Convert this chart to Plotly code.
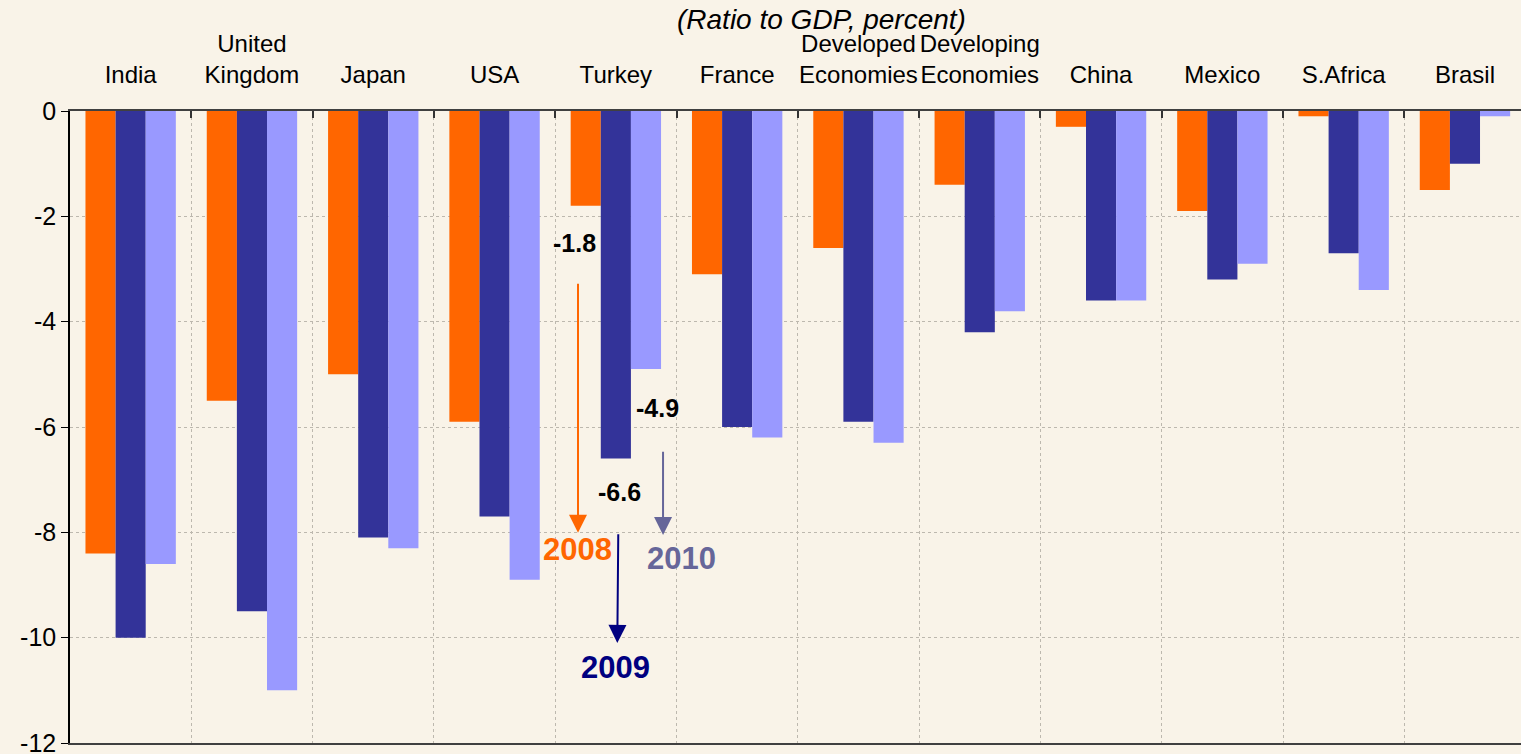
import plotly.graph_objects as go

categories = ["India", "United<br>Kingdom", "Japan", "USA", "Turkey", "France",
              "Developed<br>Economies", "Developing<br>Economies", "China", "Mexico",
              "S.Africa", "Brasil"]
years = ["2008", "2009", "2010"]
v2008 = [-8.4, -5.5, -5.0, -5.9, -1.8, -3.1, -2.6, -1.4, -0.3, -1.9, -0.1, -1.5]
v2009 = [-10.0, -9.5, -8.1, -7.7, -6.6, -6.0, -5.9, -4.2, -3.6, -3.2, -2.7, -1.0]
v2010 = [-8.6, -11.0, -8.3, -8.9, -4.9, -6.2, -6.3, -3.8, -3.6, -2.9, -3.4, -0.1]
colors = ["#FF6600", "#333399", "#9999FF"]
y_ticks = [0, -2, -4, -6, -8, -10, -12]
y_tick_text = ["0", "-2", "-4", "-6", "-8", "-10", "-12"]

BG = "#F9F3E8"
FONT = "Liberation Sans, Arial, sans-serif"

xpos = list(range(len(categories)))
fig = go.Figure()
for name, vals, col in zip(years, [v2008, v2009, v2010], colors):
    fig.add_trace(go.Bar(x=xpos, y=vals, name=name, marker=dict(color=col, line=dict(width=0))))

fig.update_layout(
    width=1521, height=754, autosize=False,
    barmode="group", bargap=0.255, bargroupgap=0,
    paper_bgcolor=BG, plot_bgcolor=BG,
    showlegend=False,
    margin=dict(l=70, r=0, t=111, b=11, autoexpand=False),
    font=dict(family=FONT, color="black"),
)
fig.update_xaxes(
    side="top", range=[-0.5, 11.462], automargin=False, tickangle=0,
    tickmode="array", tickvals=xpos, ticktext=categories,
    tickfont=dict(size=24, family=FONT, color="black"),
    ticks="", ticklabelstandoff=16,
    showgrid=False, zeroline=False,
    showline=True, linecolor="#404040", linewidth=2, mirror=True,
    minor=dict(tickmode="array", tickvals=[i + 0.5 for i in range(11)],
               showgrid=True, gridcolor="#BDB8AE", griddash="dot", gridwidth=1,
               ticks="inside", ticklen=7, tickcolor="#333333", tickwidth=2),
)
fig.update_yaxes(
    range=[-12, 0], tickmode="array", tickvals=y_ticks, ticktext=y_tick_text, automargin=False,
    tickfont=dict(size=25, family=FONT, color="black"), ticklabeloverflow="allow",
    ticks="outside", ticklen=7, tickcolor="black", tickwidth=1,
    showline=True, linecolor="black", linewidth=1.5,
    showgrid=True, gridcolor="#BDB8AE", griddash="dot", gridwidth=1,
    zeroline=False,
)

annotations = [
    dict(x=0.518, y=1.145, xref="paper", yref="paper", xanchor="center", yanchor="middle",
         text="<i>(Ratio to GDP, percent)</i>",
         showarrow=False, font=dict(size=28, family=FONT, color="black")),
    dict(x=3.663, y=-2.51, text="<b>-1.8</b>", showarrow=False, font=dict(size=25, color="black")),
    dict(x=4.347, y=-5.64, text="<b>-4.9</b>", showarrow=False, font=dict(size=25, color="black")),
    dict(x=4.034, y=-7.23, text="<b>-6.6</b>", showarrow=False, font=dict(size=25, color="black")),
    dict(x=3.68, y=-8.32, text="<b>2008</b>", showarrow=False, font=dict(size=31, color="#FF6600")),
    dict(x=4.0, y=-10.56, text="<b>2009</b>", showarrow=False, font=dict(size=31, color="#000080")),
    dict(x=4.545, y=-8.49, text="<b>2010</b>", showarrow=False, font=dict(size=31, color="#666699")),
]
arrows = [
    (3.688, -3.25, 3.688, -8.01, "#FF6600"),
    (4.02, -8.01, 4.012, -10.1, "#000080"),
    (4.389, -6.44, 4.389, -8.05, "#666699"),
]
for ax_, ay_, x_, y_, c in arrows:
    annotations.append(dict(x=x_, y=y_, ax=ax_, ay=ay_, xref="x", yref="y", axref="x", ayref="y",
                            text="", showarrow=True, arrowhead=2, arrowsize=1.8, arrowwidth=2,
                            arrowcolor=c, standoff=0, startstandoff=0))
fig.update_layout(annotations=annotations)

fig.write_html(
    "out.html",
    config={"displayModeBar": False},
    post_script="document.body.style.margin='0px'; document.body.style.overflow='hidden';",
)
